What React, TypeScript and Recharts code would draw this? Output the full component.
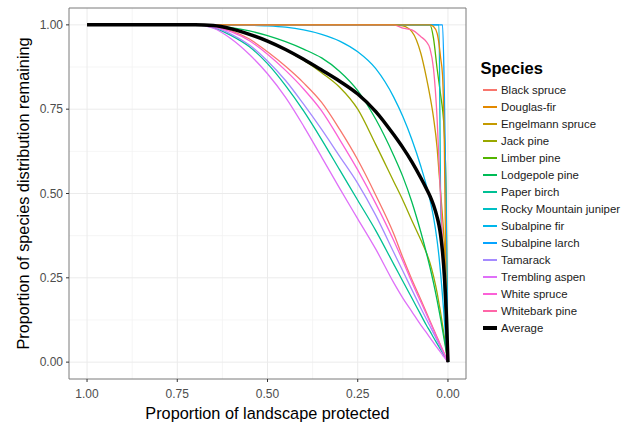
import React from "react";
import {
  LineChart,
  Line,
  XAxis,
  YAxis,
  CartesianGrid,
  ReferenceArea,
} from "recharts";

// proportion of landscape protected (x), read right-to-left on the chart
const protectedShare = [
  1, 0.7, 0.65, 0.6, 0.55, 0.5, 0.45, 0.4, 0.35, 0.3, 0.25, 0.2, 0.15, 0.125,
  0.1, 0.075, 0.06, 0.05, 0.04, 0.03, 0.025, 0.02, 0.015, 0.01, 0.005, 0,
];

const blackSpruce = [1, 1, 0.996, 0.982, 0.958, 0.92, 0.877, 0.828, 0.77, 0.69, 0.6, 0.495, 0.38, 0.31, 0.245, 0.185, 0.148, 0.123, 0.098, 0.074, 0.062, 0.049, 0.037, 0.025, 0.012, 0];
const douglasFir = [1, 1, 1, 1, 1, 1, 1, 1, 1, 1, 1, 1, 1, 1, 1, 1, 1, 1, 0.995, 0.975, 0.945, 0.9, 0.85, 0.64, 0.2, 0];
const engelmannSpruce = [1, 1, 1, 1, 1, 1, 1, 1, 1, 1, 1, 1, 1, 0.997, 0.98, 0.915, 0.845, 0.79, 0.725, 0.635, 0.565, 0.5, 0.43, 0.35, 0.22, 0];
const jackPine = [1, 1, 0.998, 0.989, 0.972, 0.951, 0.926, 0.895, 0.858, 0.815, 0.75, 0.645, 0.535, 0.48, 0.42, 0.362, 0.325, 0.295, 0.255, 0.205, 0.175, 0.145, 0.11, 0.075, 0.038, 0];
const limberPine = [1, 1, 1, 1, 1, 1, 1, 1, 1, 1, 1, 1, 1, 1, 1, 1, 1, 1, 0.96, 0.87, 0.83, 0.79, 0.75, 0.68, 0.5, 0];
const lodgepolePine = [1, 1, 0.998, 0.992, 0.982, 0.968, 0.95, 0.928, 0.902, 0.862, 0.805, 0.72, 0.612, 0.55, 0.475, 0.385, 0.325, 0.282, 0.235, 0.183, 0.155, 0.126, 0.095, 0.064, 0.032, 0];
const paperBirch = [1, 1, 0.992, 0.968, 0.935, 0.885, 0.82, 0.745, 0.66, 0.57, 0.48, 0.39, 0.29, 0.24, 0.19, 0.14, 0.11, 0.092, 0.073, 0.055, 0.046, 0.037, 0.028, 0.018, 0.009, 0];
const rockyMountainJuniper = [1, 1, 1, 1, 1, 1, 1, 1, 1, 1, 1, 1, 1, 1, 1, 1, 1, 1, 1, 1, 1, 0.46, 0.33, 0.2, 0.09, 0];
const subalpineFir = [1, 1, 1, 1, 0.999, 0.997, 0.993, 0.985, 0.972, 0.952, 0.92, 0.87, 0.785, 0.728, 0.66, 0.58, 0.525, 0.482, 0.43, 0.36, 0.315, 0.26, 0.195, 0.125, 0.055, 0];
const subalpineLarch = [1, 1, 1, 1, 1, 1, 1, 1, 1, 1, 1, 1, 1, 1, 1, 1, 1, 1, 1, 1, 1, 1, 1, 0.8, 0.45, 0];
const tamarack = [1, 1, 0.993, 0.972, 0.94, 0.893, 0.835, 0.765, 0.69, 0.61, 0.53, 0.435, 0.325, 0.27, 0.215, 0.16, 0.128, 0.107, 0.086, 0.064, 0.054, 0.043, 0.032, 0.021, 0.011, 0];
const tremblingAspen = [1, 1, 0.99, 0.958, 0.912, 0.855, 0.785, 0.7, 0.608, 0.515, 0.425, 0.335, 0.235, 0.19, 0.15, 0.11, 0.088, 0.073, 0.058, 0.043, 0.036, 0.029, 0.021, 0.014, 0.007, 0];
const whiteSpruce = [1, 1, 0.995, 0.979, 0.953, 0.913, 0.865, 0.81, 0.745, 0.66, 0.57, 0.47, 0.36, 0.3, 0.237, 0.178, 0.143, 0.119, 0.095, 0.071, 0.059, 0.048, 0.036, 0.024, 0.012, 0];
const whitebarkPine = [1, 1, 1, 1, 1, 1, 1, 1, 1, 1, 1, 1, 1, 0.99, 0.985, 0.965, 0.95, 0.93, 0.87, 0.72, 0.6, 0.48, 0.36, 0.24, 0.12, 0];
const average = [1, 1, 0.998, 0.988, 0.972, 0.952, 0.927, 0.898, 0.866, 0.833, 0.795, 0.743, 0.674, 0.636, 0.594, 0.546, 0.515, 0.493, 0.466, 0.43, 0.407, 0.374, 0.326, 0.258, 0.154, 0];

const axisTicks = [0, 0.25, 0.5, 0.75, 1];
const minorTicks = [0.125, 0.375, 0.625, 0.875];

const species = [
  { name: "Black spruce", color: "#F8766D", values: blackSpruce },
  { name: "Douglas-fir", color: "#E38900", values: douglasFir },
  { name: "Engelmann spruce", color: "#C49A00", values: engelmannSpruce },
  { name: "Jack pine", color: "#99A800", values: jackPine },
  { name: "Limber pine", color: "#53B400", values: limberPine },
  { name: "Lodgepole pine", color: "#00BC56", values: lodgepolePine },
  { name: "Paper birch", color: "#00C094", values: paperBirch },
  { name: "Rocky Mountain juniper", color: "#00BFC4", values: rockyMountainJuniper },
  { name: "Subalpine fir", color: "#00B6EB", values: subalpineFir },
  { name: "Subalpine larch", color: "#06A4FF", values: subalpineLarch },
  { name: "Tamarack", color: "#A58AFF", values: tamarack },
  { name: "Trembling aspen", color: "#DF70F8", values: tremblingAspen },
  { name: "White spruce", color: "#FB61D7", values: whiteSpruce },
  { name: "Whitebark pine", color: "#FF66A8", values: whitebarkPine },
];

const toPoints = (values: number[]) =>
  protectedShare.map((x, i) => ({ x, y: values[i] }));

// douglas-fir sits on top of the flat part in the original
const drawOrder = [...species.filter((s) => s.name !== "Douglas-fir"), species[1]];

const FONT = "'Liberation Sans', Arial, sans-serif";

const YTitle = (props: any) => {
  const vb = props.viewBox || { y: 8, height: 371 };
  const cx = 28.5;
  const cy = vb.y + vb.height / 2;
  return (
    <text
      x={cx}
      y={cy}
      transform={`rotate(-90 ${cx} ${cy})`}
      textAnchor="middle"
      fontSize={16.3}
      fill="#000"
      fontFamily={FONT}
    >
      Proportion of species distribution remaining
    </text>
  );
};

const XTitle = (props: any) => {
  const vb = props.viewBox || { x: 69, width: 397 };
  return (
    <text
      x={vb.x + vb.width / 2}
      y={419.3}
      textAnchor="middle"
      fontSize={16.3}
      fill="#000"
      fontFamily={FONT}
    >
      Proportion of landscape protected
    </text>
  );
};

const legendRows = [
  ...species.map((s) => ({ name: s.name, color: s.color, width: 2 })),
  { name: "Average", color: "#000000", width: 4 },
];

const App: React.FC = () => {
  return (
    <div
      style={{
        position: "absolute",
        left: 0,
        top: 0,
        width: 628,
        height: 426,
        background: "#fff",
        fontFamily: FONT,
      }}
    >
      <LineChart
        width={628}
        height={426}
        margin={{ top: 8, right: 162, left: 0, bottom: 0 }}
      >
        <CartesianGrid
          stroke="#F3F3F3"
          strokeWidth={0.8}
          horizontalValues={minorTicks}
          verticalValues={minorTicks}
        />
        <CartesianGrid
          stroke="#EBEBEB"
          strokeWidth={1}
          horizontalValues={axisTicks}
          verticalValues={axisTicks}
        />
        <XAxis
          dataKey="x"
          type="number"
          domain={[-0.05, 1.05]}
          reversed
          ticks={axisTicks}
          tickFormatter={(v: number) => v.toFixed(2)}
          height={47}
          tickSize={3}
          tickMargin={7}
          axisLine={false}
          tickLine={{ stroke: "#333333" }}
          tick={{ fill: "#4D4D4D", fontSize: 12, fontFamily: FONT }}
          allowDataOverflow
          label={<XTitle />}
        />
        <YAxis
          dataKey="y"
          type="number"
          domain={[-0.05, 1.05]}
          ticks={axisTicks}
          tickFormatter={(v: number) => v.toFixed(2)}
          width={69}
          tickSize={3}
          tickMargin={3}
          axisLine={false}
          tickLine={{ stroke: "#333333" }}
          tick={{ fill: "#4D4D4D", fontSize: 12, fontFamily: FONT }}
          allowDataOverflow
          label={<YTitle />}
        />
        {drawOrder.map((s) => (
          <Line
            key={s.name}
            data={toPoints(s.values)}
            dataKey="y"
            type="monotone"
            stroke={s.color}
            strokeWidth={1.3}
            dot={false}
            activeDot={false}
            isAnimationActive={false}
          />
        ))}
        <Line
          data={toPoints(average)}
          dataKey="y"
          type="monotone"
          stroke="#000000"
          strokeWidth={3.5}
          dot={false}
          activeDot={false}
          isAnimationActive={false}
        />
        <ReferenceArea
          x1={-0.05}
          x2={1.05}
          y1={-0.05}
          y2={1.05}
          fill="none"
          fillOpacity={0}
          stroke="#7A7A7A"
          strokeWidth={1}
        />
      </LineChart>
      <div
        style={{
          position: "absolute",
          left: 480.5,
          top: 58,
          fontSize: 16.5,
          fontWeight: "bold",
          color: "#000",
          lineHeight: "20px",
        }}
      >
        Species
      </div>
      {legendRows.map((r, i) => (
        <div
          key={r.name}
          style={{
            position: "absolute",
            left: 483,
            top: Math.round(90 + i * 17.02) - 8,
            height: 16,
            display: "flex",
            alignItems: "center",
            whiteSpace: "nowrap",
          }}
        >
          <div
            style={{
              width: 14,
              height: r.width,
              background: r.color,
              marginRight: 4,
            }}
          />
          <span style={{ fontSize: 11.4, color: "#1A1A1A", lineHeight: "16px" }}>
            {r.name}
          </span>
        </div>
      ))}
    </div>
  );
};

export default App;
